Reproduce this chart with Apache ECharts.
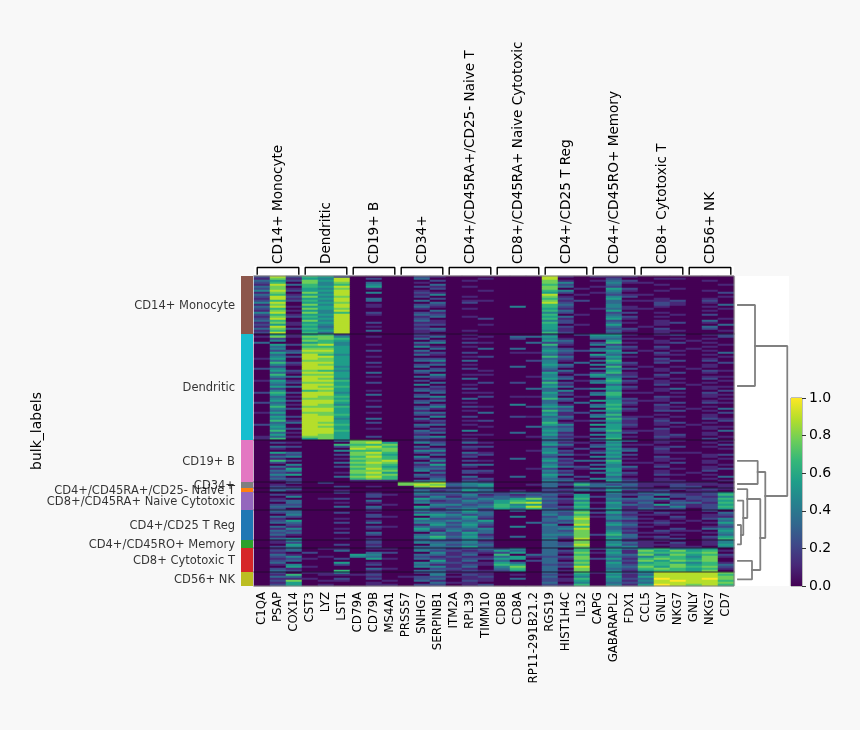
<!DOCTYPE html>
<html><head><meta charset="utf-8">
<style>html,body{margin:0;padding:0;background:#f8f8f8}#c{width:860px;height:730px}</style>
<script src="https://cdn.jsdelivr.net/npm/echarts@6/dist/echarts.min.js"></script></head>
<body><div id="c"></div>
<script>
const geneLabels=["C1QA","PSAP","COX14","CST3","LYZ","LST1","CD79A","CD79B","MS4A1","PRSS57","SNHG7","SERPINB1","ITM2A","RPL39","TIMM10","CD8B","CD8A","RP11-291B21.2","RGS19","HIST1H4C","IL32","CAPG","GABARAPL2","FDX1","CCL5","GNLY","NKG7","GNLY","NKG7","CD7"];
const groupLabels=["CD14+ Monocyte","Dendritic","CD19+ B","CD34+","CD4+/CD45RA+/CD25- Naive T","CD8+/CD45RA+ Naive Cytotoxic","CD4+/CD25 T Reg","CD4+/CD45RO+ Memory","CD8+ Cytotoxic T","CD56+ NK"];
const groupColors=["#8c564b","#17becf","#e377c2","#7f7f7f","#ff7f0e","#9467bd","#1f77b4","#2ca02c","#d62728","#bcbd22"];
const viridis=["#440154","#482878","#3e4989","#31688e","#26828e","#1f9e89","#35b779","#6ece58","#b5de2b","#fde725"];
// each string is one band of cells; one digit per gene, digit/9 = scaled expression
const rowsMonocyte=[
"282 652 000 021 000 000 810 111 000 000","171 548 020 030 001 000 800 020 011 000","352 758 000 002 010 000 710 132 000 010","260 747 030 010 000 000 740 041 100 000","183 646 040 003 000 000 620 030 010 001",
"370 658 050 021 010 000 730 120 000 000","271 547 010 002 000 000 701 052 001 000","482 558 000 010 001 000 640 041 010 010","170 748 040 021 000 000 520 130 000 002","361 558 000 014 000 000 801 021 100 000",
"282 747 000 020 010 000 710 042 000 001","181 558 030 002 000 000 620 050 010 010","262 648 030 030 011 000 712 031 112 020","480 557 000 003 020 000 820 030 021 010","170 748 010 022 000 000 630 040 021 003",
"381 558 010 031 000 040 620 041 010 010","260 757 000 010 010 000 510 131 100 001","171 548 000 003 000 000 630 050 000 010","480 746 020 021 000 000 420 022 010 000","261 558 010 032 000 000 601 030 001 020",
"172 648 000 013 010 000 530 042 010 000","280 558 000 020 002 000 610 051 000 001","360 748 000 031 000 000 420 020 010 030","171 558 020 011 000 000 620 031 012 010","251 648 000 022 001 000 501 050 010 003",
"180 538 010 010 000 000 520 030 100 030","372 648 000 023 000 000 510 022 020 020","160 558 030 012 010 000 410 031 011 001","280 638 000 010 000 000 620 020 010 000"];
const rowsDendritic=[
"051 562 000 021 010 000 302 551 012 012","171 774 010 013 001 033 500 440 000 002","020 676 000 030 010 020 410 331 101 010","040 765 000 002 000 000 530 050 010 100","300 564 000 034 021 003 220 261 012 010",
"052 784 010 010 000 000 610 420 000 001","030 665 000 041 010 000 300 042 020 010","040 775 000 003 003 030 420 331 010 100","022 885 020 030 000 000 532 450 101 010","053 775 000 012 020 011 420 043 020 003",
"030 864 000 031 000 000 310 530 011 010","042 885 010 000 012 000 630 251 000 001","150 875 000 022 000 000 320 040 020 010","030 775 000 034 030 002 410 360 012 020","062 885 020 001 000 000 403 052 020 002",
"041 875 000 023 010 000 530 431 000 010","020 884 010 030 000 030 420 060 101 010","240 885 000 002 020 000 300 342 010 100","052 764 000 033 001 000 230 050 010 021","031 885 030 020 000 000 510 261 002 010",
"060 775 000 004 011 000 402 531 020 000","043 885 010 032 000 001 420 442 010 011","020 874 000 001 030 000 530 050 101 020","151 886 000 020 000 000 301 362 010 001","042 775 020 003 002 020 620 451 011 010",
"030 885 000 040 010 000 410 030 020 100","053 876 000 002 000 000 530 052 000 011","020 885 000 021 020 003 302 451 013 010","040 675 010 032 000 000 340 040 010 002","262 884 000 003 011 000 510 361 101 020",
"050 885 030 020 000 000 420 460 000 011","031 876 000 034 002 011 401 050 021 010","040 775 000 001 030 000 630 042 010 001","052 886 010 023 000 000 320 551 110 010","230 885 000 030 010 000 303 052 002 021",
"041 874 000 002 000 040 410 361 020 000","060 776 020 024 021 002 540 450 011 010","042 885 000 031 000 000 320 062 010 103","030 885 000 010 010 000 630 451 022 010","150 775 010 033 003 000 412 040 000 002",
"030 876 000 021 000 000 510 360 010 010","052 885 000 004 020 021 330 441 101 010","040 884 030 030 000 000 420 062 010 021","061 885 000 012 012 000 401 351 020 002","033 875 020 001 000 000 610 041 012 010",
"240 886 000 033 010 000 540 552 010 100","050 875 000 020 001 003 320 051 001 011","042 885 010 002 000 000 430 450 020 010","060 886 000 031 040 000 530 361 110 003","031 885 000 023 000 030 410 042 010 010",
"050 875 000 010 011 000 520 450 012 010","131 775 020 034 000 001 311 051 021 001","160 575 000 021 010 000 420 360 010 020"];
const rowsB=[
"000 003 770 021 010 000 320 253 011 001","021 000 785 042 031 000 411 040 010 010","000 006 667 003 000 000 530 251 100 002","032 002 786 030 022 000 210 340 012 010","010 000 877 012 010 000 402 052 020 001",
"000 004 667 044 000 001 420 143 010 000","053 000 786 021 031 000 510 350 011 100","012 002 775 003 012 000 331 042 000 012","034 000 686 040 020 000 200 450 020 010","010 001 776 022 000 030 420 031 011 001",
"062 000 678 004 021 000 513 360 010 010","020 003 787 031 000 000 320 051 102 010","004 000 676 015 033 000 410 340 010 001","031 002 775 022 010 000 532 043 020 010","015 000 686 033 000 001 201 451 001 012",
"034 000 777 041 022 000 420 050 010 020","021 001 785 003 021 000 310 342 010 100","045 000 677 031 000 000 530 051 021 010","020 003 786 022 030 030 402 030 000 003","032 000 676 003 012 000 320 441 010 010",
"012 000 111 034 021 000 431 052 011 001"];
const rowsCD34=["002 020 000 778 243 000 314 232 111 110","010 000 000 787 345 001 326 323 112 111","021 002 010 078 234 000 303 342 102 201"];
const rowsNaive=["023 000 000 022 243 000 224 143 112 121","031 001 000 031 253 010 213 251 120 110"];
const rowsNaiveCyto=[
"000 002 010 043 323 243 220 041 321 125","021 000 021 032 241 212 315 032 242 126","004 000 020 014 132 323 205 230 302 214",
"010 012 000 053 324 357 326 043 340 226","023 000 030 031 243 565 214 032 212 125","003 001 010 042 232 578 316 151 303 316",
"022 000 001 004 423 645 205 043 252 125","033 003 030 053 234 658 226 041 214 126","020 000 020 031 342 536 315 251 322 025"];
const rowsTReg=[
"033 000 010 042 352 030 336 041 100 020","023 002 000 023 243 000 327 252 021 003","004 000 020 055 423 000 426 031 110 012","032 000 021 004 352 040 247 142 002 011","010 001 000 052 241 000 348 043 101 024",
"025 000 010 033 435 000 327 021 010 103","033 002 030 044 243 003 237 042 121 015","002 000 000 015 352 000 408 053 010 003","031 000 021 033 241 040 336 032 100 012","014 001 010 052 334 000 348 031 002 034",
"032 000 000 041 423 000 327 042 021 105","023 002 030 004 253 000 337 051 110 014","031 000 020 033 241 000 447 263 001 003","010 000 000 046 352 030 327 043 120 025","034 001 010 035 243 000 418 052 012 016"];
const rowsMemory=["014 000 020 032 241 000 307 041 110 014","012 000 020 043 342 000 327 043 102 014","005 002 010 004 233 000 328 052 111 015","024 000 020 033 352 000 337 034 101 104"];
const rowsCD8=[
"013 011 011 033 123 240 306 253 564 450","023 003 000 042 212 530 326 041 757 561","010 200 032 004 121 250 317 151 666 670","031 000 540 033 130 603 306 043 747 562",
"024 010 430 021 211 351 227 032 466 471","012 102 051 032 122 550 317 251 676 570","023 000 000 005 130 302 306 032 757 670","030 005 010 043 211 530 327 051 565 461",
"014 002 020 031 121 650 216 042 667 563","005 100 000 044 130 470 328 043 757 672","021 000 031 002 210 360 307 032 676 561","032 006 010 033 121 250 317 041 566 570"];
const rowsNK=["020 114 010 023 111 000 306 152 488 887","016 011 120 004 021 010 215 041 388 886","033 000 010 122 112 000 304 051 588 887","011 102 020 023 011 030 216 042 398 897","027 011 001 031 021 000 215 041 489 886","015 000 010 003 110 000 304 032 388 887","025 010 011 022 012 000 216 041 598 786"];
const groupRows=[rowsMonocyte,rowsDendritic,rowsB,rowsCD34,rowsNaive,rowsNaiveCyto,rowsTReg,rowsMemory,rowsCD8,rowsNK];
// dendrogram: [left distance A, row A, left distance B, row B, merge distance]
const dendroMerges=[[2,14.5,2,55,19],[2,92.4,2,104,21.7],[2,124.5,2,134.2,5],[2,112.3,5,129.5,7.3],[2,106.6,7.3,121,11.3],[2,142.4,2,151.7,16],[11.3,111.5,16,147,24.3],[21.7,98,24.3,131,29.3],[19,35,29.3,110,51.3]];
const bracketInset=0.2,bracketFoot=0.2,bracketTop=0.85;
const colorbarTicks={min:0,max:1,interval:0.2};

const allRows=groupRows.flat();
const totalRows=allRows.length;
const heat=[];
allRows.forEach((r,y)=>{r.replace(/\s/g,'').split('').forEach((d,x)=>heat.push([x,y,+d/9]));});
const sizes=groupRows.map(g=>g.length);
let acc=0;const boundaries=[],centers=[];
sizes.forEach(s=>{centers.push(acc+s/2);acc+=s;boundaries.push(acc);});
const FONT='"DejaVu Sans"',TXT='#000';
const line=(xi,yi,data,color,width,z)=>({type:'line',xAxisIndex:xi,yAxisIndex:yi,data,symbol:'none',silent:true,animation:false,clip:false,z,lineStyle:{color,width,cap:'square'}});
const series=[{type:'heatmap',xAxisIndex:0,yAxisIndex:0,data:heat,progressive:0,silent:true,animation:false,emphasis:{disabled:true}}];
boundaries.slice(0,-1).forEach(b=>series.push(line(1,1,[[0,b],[30,b]],'#1c0a2a',0.8,5)));
series.push(line(1,1,[[0,0],[30,0],[30,totalRows],[0,totalRows]],'#808080',1,6));
groupLabels.forEach((n,i)=>series.push({type:'bar',xAxisIndex:2,yAxisIndex:2,stack:'g',barWidth:'100%',data:[sizes[i]],itemStyle:{color:groupColors[i]},silent:true,animation:false}));
series.push({type:'scatter',xAxisIndex:2,yAxisIndex:2,symbolSize:0,silent:true,animation:false,
  data:centers.map((c,i)=>({value:[0,c],label:{formatter:groupLabels[i]}})),
  label:{show:true,position:'left',distance:12,offset:[0,1.5],color:TXT,fontFamily:FONT,fontSize:11.5}});
groupLabels.forEach((n,i)=>{const a=i*3+bracketInset,b=i*3+3-bracketInset;series.push(line(4,3,[[a,bracketFoot],[a,bracketTop],[b,bracketTop],[b,bracketFoot]],'#000',1.4,5));});
dendroMerges.forEach(m=>series.push(line(5,4,[[m[0],m[1]],[m[4],m[1]],[m[4],m[3]],[m[2],m[3]]],'#808080',1.8,5)));
series.push({type:'bar',xAxisIndex:6,yAxisIndex:5,data:[colorbarTicks.max],barWidth:'100%',silent:true,animation:false,
  itemStyle:{color:new echarts.graphic.LinearGradient(0,1,0,0,viridis.map((c,i)=>({offset:i/9,color:c})))}});

const off={axisLine:{show:false},axisTick:{show:false},axisLabel:{show:false},splitLine:{show:false}};
const option={backgroundColor:'#f8f8f8',animation:false,
 visualMap:{show:false,seriesIndex:0,min:0,max:1,dimension:2,inRange:{color:viridis}},
 grid:[
  {left:254,top:276,width:480,height:310,show:true,backgroundColor:'#440154',borderWidth:0},
  {left:241,top:276,width:12,height:310},
  {left:254,top:266,width:480,height:10,show:true,backgroundColor:'#fff',borderWidth:0},
  {left:736,top:276,width:53,height:310,show:true,backgroundColor:'#fff',borderWidth:0},
  {left:791,top:398,width:11,height:188,show:true,borderColor:'#808080',borderWidth:1}
 ],
 xAxis:[
  {type:'category',gridIndex:0,data:geneLabels,position:'bottom',axisLine:{show:false},splitLine:{show:false},
   axisTick:{show:true,alignWithLabel:true,length:4,lineStyle:{color:'#333'}},
   axisLabel:{interval:0,rotate:90,margin:6,color:TXT,fontFamily:FONT,fontSize:11.8}},
  {type:'value',gridIndex:0,min:0,max:30,show:false,...off},
  {type:'category',gridIndex:1,data:['strip'],show:false,...off},
  {type:'category',gridIndex:2,data:groupLabels,position:'top',axisLine:{show:false},axisTick:{show:false},splitLine:{show:false},
   axisLabel:{interval:0,rotate:90,margin:2,color:TXT,fontFamily:FONT,fontSize:13.6}},
  {type:'value',gridIndex:2,min:0,max:30,show:false,...off},
  {type:'value',gridIndex:3,min:0,max:53,show:false,...off},
  {type:'category',gridIndex:4,data:['cb'],show:false,...off}
 ],
 yAxis:[
  {type:'category',gridIndex:0,inverse:true,data:allRows.map((r,i)=>i),show:false,...off},
  {type:'value',gridIndex:0,inverse:true,min:0,max:totalRows,show:false,...off},
  {type:'value',gridIndex:1,inverse:true,min:0,max:totalRows,name:'bulk_labels',nameLocation:'middle',nameGap:197,
   nameTextStyle:{color:TXT,fontFamily:FONT,fontSize:14},...off},
  {type:'value',gridIndex:2,min:0,max:1,show:false,...off},
  {type:'value',gridIndex:3,inverse:true,min:0,max:totalRows,show:false,...off},
  {type:'value',gridIndex:4,position:'right',min:colorbarTicks.min,max:colorbarTicks.max,interval:colorbarTicks.interval,
   axisLine:{show:false},splitLine:{show:false},axisTick:{show:true,length:4,lineStyle:{color:'#333'}},
   axisLabel:{margin:7,color:TXT,fontFamily:FONT,fontSize:14,formatter:v=>v.toFixed(1)}}
 ],
 series};
const chart=echarts.init(document.getElementById('c'),null,{renderer:'canvas'});
chart.setOption(option);
</script></body></html>
